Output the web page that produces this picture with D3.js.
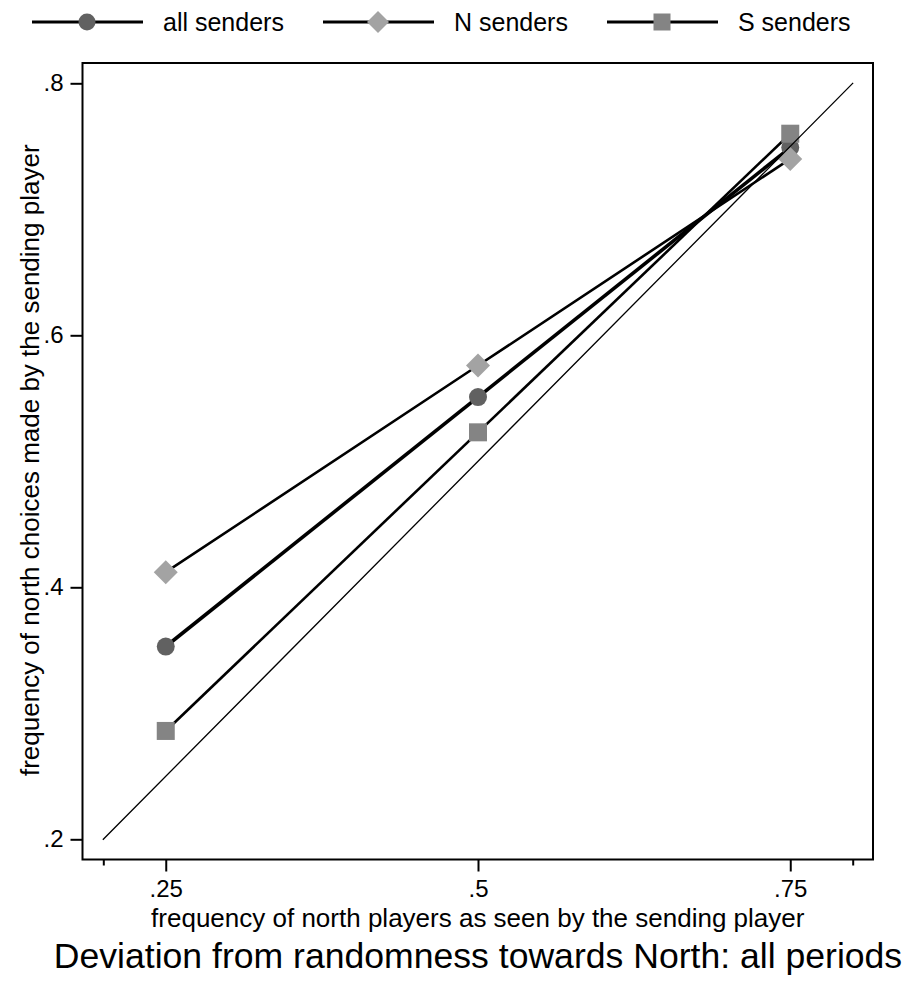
<!DOCTYPE html>
<html>
<head>
<meta charset="utf-8">
<script src="https://cdn.jsdelivr.net/npm/d3@7"></script>
<style>
  body { margin: 0; background: #fff; }
  text { font-family: "Liberation Sans", Arial, sans-serif; fill: #000; }
</style>
</head>
<body>
<div id="chart"></div>
<script>
// data
const xCats = [0.25, 0.5, 0.75];
const allSenders = [0.353, 0.551, 0.749];
const nSenders = [0.412, 0.576, 0.740];
const sSenders = [0.286, 0.523, 0.760];
const diagonal = [0.2, 0.8];
const xTickLabels = [0.25, 0.5, 0.75];
const xMinorTicks = [0.2, 0.8];
const yTickLabels = [0.2, 0.4, 0.6, 0.8];

const W = 909, H = 983;
const box = { left: 82.5, right: 873, top: 63, bottom: 859.5 };

const series = [
  { name: "all senders", values: allSenders, shape: "circle", fill: "#616161", width: 3.6, lx: 32, tx: 163 },
  { name: "N senders", values: nSenders, shape: "diamond", fill: "#a3a3a3", width: 2.6, lx: 323, tx: 454 },
  { name: "S senders", values: sSenders, shape: "square", fill: "#848484", width: 2.6, lx: 607, tx: 738 }
];

const svg = d3.select("#chart").append("svg")
  .attr("width", W)
  .attr("height", H);

const x = d3.scaleLinear().domain([0.2, 0.8]).range([103.3, 852.7]);
const y = d3.scaleLinear().domain([0.2, 0.8]).range([839.3, 83.3]);

const fmt = d => String(d).replace(/^0/, "");

function marker(g, shape, fill, big) {
  if (shape === "circle") {
    g.append("circle").attr("r", big ? 9 : 8.5).attr("fill", fill);
  } else if (shape === "square") {
    const s = big ? 18 : 17;
    g.append("rect").attr("x", -s / 2).attr("y", -s / 2).attr("width", s).attr("height", s).attr("fill", fill);
  } else {
    const s = big ? 12 : 11;
    g.append("path").attr("d", `M0,${-s}L${s},0L0,${s}L${-s},0Z`).attr("fill", fill);
  }
}

// frame
svg.append("rect")
  .attr("x", box.left).attr("y", box.top)
  .attr("width", box.right - box.left).attr("height", box.bottom - box.top)
  .attr("fill", "none").attr("stroke", "#000").attr("stroke-width", 2);

// x axis
const xAxis = svg.append("g")
  .attr("transform", `translate(0,${box.bottom})`)
  .call(d3.axisBottom(x).tickValues(xTickLabels).tickSize(12).tickPadding(8).tickFormat(fmt));
xAxis.select(".domain").remove();
xAxis.selectAll("line").attr("stroke-width", 2);
xAxis.selectAll("text").attr("font-size", 24).attr("font-family", "Liberation Sans, Arial, sans-serif");

const xMinor = svg.append("g")
  .attr("transform", `translate(0,${box.bottom})`)
  .call(d3.axisBottom(x).tickValues(xMinorTicks).tickSize(6).tickFormat(""));
xMinor.select(".domain").remove();
xMinor.selectAll("line").attr("stroke-width", 2);

// y axis
const yAxis = svg.append("g")
  .attr("transform", `translate(${box.left},0)`)
  .call(d3.axisLeft(y).tickValues(yTickLabels).tickSize(12).tickPadding(7).tickFormat(fmt));
yAxis.select(".domain").remove();
yAxis.selectAll("line").attr("stroke-width", 2);
yAxis.selectAll("text").attr("font-size", 24).attr("font-family", "Liberation Sans, Arial, sans-serif");

// axis titles
svg.append("text")
  .attr("x", (box.left + box.right) / 2).attr("y", 927)
  .attr("text-anchor", "middle").attr("font-size", 26)
  .text("frequency of north players as seen by the sending player");

svg.append("text")
  .attr("transform", `translate(39,${(box.top + box.bottom) / 2 - 1}) rotate(-90)`)
  .attr("text-anchor", "middle").attr("font-size", 26)
  .text("frequency of north choices made by the sending player");

svg.append("text")
  .attr("x", 478).attr("y", 968)
  .attr("text-anchor", "middle").attr("font-size", 35.6)
  .text("Deviation from randomness towards North: all periods");

// series lines
const line = d3.line().x((d, i) => x(xCats[i])).y(d => y(d));

series.forEach(s => {
  svg.append("path")
    .datum(s.values)
    .attr("d", line)
    .attr("fill", "none")
    .attr("stroke", "#000")
    .attr("stroke-width", s.width);
});

// markers
series.forEach(s => {
  s.values.forEach((v, i) => {
    const g = svg.append("g").attr("transform", `translate(${x(xCats[i])},${y(v)})`);
    marker(g, s.shape, s.fill, true);
  });
});

// 45 degree reference line
svg.append("line")
  .attr("x1", x(diagonal[0])).attr("y1", y(diagonal[0]))
  .attr("x2", x(diagonal[1])).attr("y2", y(diagonal[1]))
  .attr("stroke", "#000").attr("stroke-width", 1.3)
  .attr("stroke-linecap", "square");

// legend
const legend = svg.append("g");
series.forEach(s => {
  legend.append("line")
    .attr("x1", s.lx).attr("x2", s.lx + 111)
    .attr("y1", 22).attr("y2", 22)
    .attr("stroke", "#000").attr("stroke-width", 3);
  const g = legend.append("g").attr("transform", `translate(${s.lx + 55},22)`);
  marker(g, s.shape, s.fill, false);
  legend.append("text")
    .attr("x", s.tx).attr("y", 31)
    .attr("font-size", 25)
    .text(s.name);
});
</script>
</body>
</html>
